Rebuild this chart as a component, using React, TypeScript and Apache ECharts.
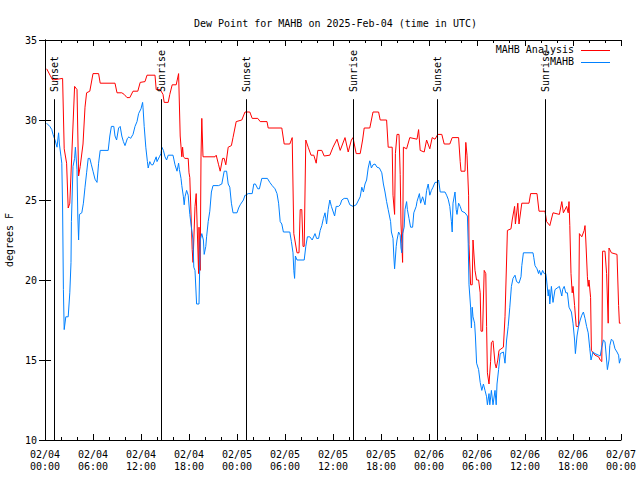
import React, { useEffect, useRef } from "react";
import * as echarts from "echarts";

// hours since 2025-02-04 00:00 UTC, dew point (F)
const analysisData: [number, number][] = [
  [0.21, 33.2], [0.63, 32.8], [0.96, 32.5], [2.2, 32.6], [2.4, 28.2], [2.7, 27.3], [2.9, 24.5], [3.1, 24.8],
  [3.7, 32.1], [4.0, 31.9], [4.2, 26.5], [4.4, 27.1], [4.75, 28.5], [5.0, 30.8], [5.2, 31.7], [5.6, 31.8],
  [6.0, 32.9], [6.7, 32.9], [6.9, 32.3], [8.75, 32.3], [9.0, 31.7], [9.6, 31.7], [9.9, 31.6], [10.25, 31.4],
  [10.6, 31.4], [11.0, 31.8], [11.6, 31.8], [11.9, 32.35], [12.5, 32.4], [12.75, 32.8], [13.75, 32.8],
  [13.9, 31.9], [14.4, 31.9], [14.75, 31.6], [14.9, 31.1], [15.4, 31.1], [15.6, 31.6], [15.9, 32.2],
  [16.4, 32.2], [16.7, 32.9], [16.9, 29.0], [17.1, 27.7], [17.2, 28.3], [17.3, 27.7], [17.5, 27.6],
  [17.9, 27.6], [18.0, 26.7], [18.1, 26.4], [18.4, 21.9], [18.5, 21.1], [18.75, 24.6], [18.9, 25.4],
  [19.2, 20.4], [19.25, 23.3], [19.4, 20.6], [19.5, 27.7], [19.6, 30.1], [19.75, 27.7], [21.25, 27.7],
  [21.4, 27.8], [21.7, 27.2], [21.9, 26.8], [22.2, 27.6], [22.4, 27.6], [22.6, 27.2], [22.9, 28.3],
  [23.3, 28.4], [23.5, 28.9], [23.9, 29.9], [24.6, 30.0], [25.0, 30.5], [25.6, 30.5], [25.9, 30.1],
  [26.6, 30.1], [26.9, 29.9], [27.75, 29.9], [27.9, 29.5], [29.6, 29.5], [29.9, 28.5], [30.6, 28.5],
  [30.9, 28.9], [31.1, 22.9], [31.5, 21.7], [31.75, 21.7], [31.9, 24.4], [32.1, 24.4], [32.25, 22.1],
  [32.4, 22.1], [32.6, 28.75], [32.9, 28.3], [33.25, 27.8], [33.6, 27.8], [33.9, 27.3], [34.1, 28.1],
  [34.6, 28.1], [34.9, 27.75], [35.6, 27.8], [36.0, 28.3], [36.5, 28.8], [36.9, 28.1], [37.5, 28.9],
  [37.9, 28.0], [38.3, 28.75], [38.5, 28.9], [38.9, 27.9], [39.4, 27.9], [39.7, 28.75], [39.9, 29.5],
  [40.6, 29.5], [41.0, 30.5], [41.7, 30.5], [41.9, 30.0], [42.7, 30.0], [42.9, 28.3], [43.4, 28.3],
  [43.5, 25.3], [43.7, 24.1], [43.8, 27.9], [44.0, 29.1], [44.25, 29.1], [44.4, 26.6], [44.5, 23.5],
  [44.6, 22.3], [44.7, 21.1], [44.8, 28.3], [45.2, 28.2], [45.6, 28.9], [46.5, 28.8], [46.7, 29.4],
  [46.9, 28.1], [47.4, 28.0], [47.7, 28.75], [48.1, 28.2], [48.4, 28.9], [48.75, 28.8], [49.1, 29.1],
  [49.6, 29.1], [49.9, 28.5], [50.6, 28.5], [50.9, 28.9], [51.7, 28.9], [51.9, 27.4], [52.0, 26.8],
  [52.5, 26.8], [52.6, 28.6], [52.75, 27.8], [52.95, 25.3], [53.0, 22.2], [53.2, 19.7], [53.4, 19.7],
  [53.5, 22.5], [53.75, 20.6], [53.95, 20.0], [54.2, 20.0], [54.4, 19.2], [54.5, 16.8], [54.7, 16.8],
  [54.9, 20.6], [55.1, 20.4], [55.2, 17.1], [55.3, 14.2], [55.5, 13.5], [55.7, 14.9], [55.8, 16.1],
  [56.0, 16.2], [56.25, 14.8], [56.4, 14.5], [56.6, 15.0], [56.75, 15.6], [57.3, 15.8], [57.5, 17.7],
  [57.7, 21.25], [57.8, 23.1], [58.25, 23.2], [58.4, 23.75], [58.7, 24.6], [58.8, 23.5], [59.1, 24.8],
  [59.25, 23.5], [59.6, 24.8], [60.5, 24.8], [60.7, 25.4], [61.5, 25.4], [61.75, 24.3], [62.5, 24.3],
  [62.7, 23.65], [63.1, 23.4], [63.5, 24.2], [64.3, 24.1], [64.6, 24.9], [64.8, 24.2], [65.2, 24.6],
  [65.4, 24.2], [65.5, 24.9], [65.6, 23.4], [65.75, 20.4], [65.9, 19.2], [66.0, 19.6], [66.2, 18.4],
  [66.4, 17.1], [66.7, 17.1], [66.8, 22.9], [67.1, 22.7], [67.4, 23.1], [67.5, 23.4], [67.6, 22.5],
  [67.8, 20.2], [67.9, 19.6], [68.0, 20.0], [68.2, 18.9], [68.3, 15.6], [68.75, 15.3], [69.2, 15.2],
  [69.4, 15.0], [69.6, 14.9], [69.7, 21.8], [70.0, 21.8], [70.2, 20.4], [70.4, 17.3], [70.5, 22.0],
  [70.8, 21.7], [71.5, 21.6], [71.7, 18.4], [71.8, 17.3], [71.95, 17.3],
];

const stationData: [number, number][] = [
  [0.2, 29.8], [0.6, 29.6], [0.85, 29.4], [1.0, 29.1], [1.25, 28.75], [1.5, 28.3], [1.7, 29.2], [1.8, 28.5],
  [2.0, 27.7], [2.1, 27.3], [2.2, 24.5], [2.3, 19.4], [2.4, 16.9], [2.6, 17.7], [2.9, 17.7], [3.1, 19.2],
  [3.25, 21.1], [3.3, 23.65], [3.5, 27.1], [3.7, 27.6], [3.8, 28.3], [4.0, 26.9], [4.1, 24.0], [4.2, 22.5],
  [4.3, 24.1], [4.6, 24.2], [4.8, 24.8], [5.0, 25.8], [5.2, 26.7], [5.4, 27.6], [5.6, 27.6], [5.8, 27.2],
  [6.0, 26.8], [6.25, 26.3], [6.5, 26.1], [6.7, 27.3], [6.9, 28.1], [7.9, 28.1], [8.1, 29.0], [8.3, 29.6],
  [8.6, 29.6], [8.75, 29.0], [8.95, 28.75], [9.2, 29.5], [9.4, 29.6], [9.6, 29.0], [9.8, 28.65], [10.0, 28.4],
  [10.3, 28.85], [10.5, 28.95], [10.7, 28.85], [11.0, 29.1], [11.25, 29.6], [11.5, 29.9], [11.7, 30.4],
  [12.0, 30.7], [12.2, 31.1], [12.25, 30.8], [12.4, 29.6], [12.6, 28.3], [12.8, 27.4], [12.9, 27.0],
  [13.1, 27.4], [13.3, 27.2], [13.5, 27.2], [13.9, 27.7], [14.0, 27.4], [14.3, 27.7], [14.5, 27.9],
  [14.6, 28.3], [14.8, 28.1], [15.0, 27.7], [15.2, 27.5], [15.4, 27.8], [16.0, 27.8], [16.25, 27.2],
  [16.5, 26.8], [16.7, 27.3], [16.8, 26.9], [17.0, 26.35], [17.1, 25.9], [17.3, 25.2], [17.4, 24.7],
  [17.5, 25.2], [17.7, 25.6], [17.9, 25.3], [18.1, 24.1], [18.3, 23.3], [18.5, 22.5], [18.6, 20.8],
  [18.75, 20.6], [18.95, 18.5], [19.25, 18.5], [19.4, 22.5], [19.6, 22.9], [19.8, 22.5], [19.9, 21.6],
  [20.1, 22.1], [20.2, 22.7], [20.4, 23.65], [20.6, 24.3], [20.8, 25.5], [21.0, 25.9], [21.7, 25.9],
  [22.1, 26.0], [22.4, 26.8], [22.7, 26.8], [22.9, 26.0], [23.1, 25.8], [23.3, 24.8], [23.5, 24.2],
  [24.0, 24.2], [24.2, 24.5], [24.4, 24.7], [24.8, 25.0], [25.0, 25.3], [25.1, 25.3], [25.4, 25.4],
  [25.9, 25.4], [26.1, 26.0], [26.3, 26.0], [26.6, 25.7], [26.8, 25.7], [27.1, 26.35], [27.8, 26.35],
  [28.1, 26.1], [28.4, 25.9], [28.75, 25.7], [29.0, 25.4], [29.2, 24.8], [29.4, 23.65], [29.6, 23.5],
  [29.8, 23.0], [30.6, 23.0], [30.8, 22.4], [31.0, 21.7], [31.1, 20.6], [31.2, 20.1], [31.3, 21.5],
  [31.5, 21.25], [32.4, 21.25], [32.6, 22.1], [32.8, 22.7], [33.1, 22.7], [33.4, 22.5], [33.75, 22.9],
  [33.95, 22.6], [34.2, 22.6], [34.4, 23.1], [34.6, 23.4], [34.8, 23.85], [35.0, 24.2], [35.2, 23.5],
  [35.4, 24.4], [35.6, 25.0], [35.8, 24.6], [36.2, 24.0], [36.4, 24.6], [36.7, 24.6], [36.9, 24.7],
  [37.1, 25.0], [37.4, 25.1], [37.8, 25.1], [38.1, 24.7], [38.5, 24.6], [38.9, 24.7], [39.2, 25.0],
  [39.4, 25.2], [39.6, 25.8], [39.8, 25.5], [40.0, 26.0], [40.2, 26.25], [40.4, 27.0], [40.6, 27.45],
  [40.8, 27.0], [41.0, 27.2], [41.25, 27.25], [41.5, 27.05], [41.8, 27.0], [42.1, 26.7], [42.3, 26.0],
  [42.5, 25.5], [42.7, 24.9], [42.9, 24.4], [43.2, 23.65], [43.3, 23.0], [43.5, 22.6], [43.6, 21.5],
  [43.7, 20.7], [43.9, 22.1], [44.0, 22.5], [44.2, 23.0], [44.4, 22.8], [44.5, 22.0], [44.6, 21.7],
  [44.7, 22.9], [44.9, 23.3], [45.0, 24.4], [45.2, 24.9], [45.3, 24.4], [45.5, 23.85], [45.7, 23.3],
  [45.95, 23.3], [46.1, 24.2], [46.4, 24.6], [46.5, 24.9], [46.8, 25.4], [46.95, 24.8], [47.2, 25.2],
  [47.5, 24.7], [47.7, 25.6], [47.9, 26.0], [48.1, 25.3], [48.3, 25.6], [48.5, 25.8], [48.75, 26.1],
  [48.95, 26.1], [49.2, 26.25], [49.4, 25.5], [50.0, 25.5], [50.2, 25.3], [50.4, 25.05], [50.6, 24.6],
  [50.8, 23.65], [50.9, 23.0], [51.0, 24.8], [51.25, 25.5], [51.4, 24.4], [51.5, 24.1], [51.7, 24.8],
  [51.9, 24.6], [52.1, 24.3], [52.5, 24.2], [52.8, 24.0], [52.9, 22.3], [53.0, 19.7], [53.2, 18.3],
  [53.3, 17.0], [53.4, 18.3], [53.5, 17.7], [53.7, 17.3], [53.8, 16.5], [53.95, 14.8], [54.2, 14.4],
  [54.4, 13.6], [54.6, 13.1], [54.8, 13.5], [55.0, 13.1], [55.2, 12.7], [55.3, 12.2], [55.5, 12.9],
  [55.6, 12.2], [55.8, 13.1], [56.0, 12.2], [56.25, 13.1], [56.4, 12.2], [56.5, 13.5], [56.7, 14.4],
  [56.9, 15.4], [57.3, 15.5], [57.5, 14.8], [57.7, 16.25], [57.9, 17.1], [58.1, 18.3], [58.3, 19.6],
  [58.5, 20.1], [58.75, 20.3], [58.95, 19.9], [59.25, 19.8], [59.5, 20.2], [59.6, 20.9], [59.8, 21.7],
  [61.0, 21.7], [61.1, 21.4], [61.25, 20.9], [61.5, 20.7], [61.7, 20.4], [61.8, 20.6], [62.0, 20.3],
  [62.2, 20.6], [62.4, 20.4], [62.6, 20.4], [62.7, 20.0], [62.9, 19.0], [63.0, 19.4], [63.1, 18.5],
  [63.3, 19.6], [63.5, 18.6], [63.75, 19.4], [64.3, 19.6], [64.6, 19.0], [64.7, 19.4], [64.9, 19.6],
  [65.1, 19.2], [65.3, 19.2], [65.5, 18.3], [65.8, 18.0], [66.0, 17.3], [66.2, 16.25], [66.3, 15.4],
  [66.5, 16.5], [66.7, 17.1], [66.9, 17.5], [67.1, 17.8], [67.3, 18.0], [67.5, 17.6], [67.7, 17.1],
  [67.9, 16.7], [68.1, 15.7], [68.25, 15.0], [68.5, 15.5], [68.75, 15.4], [69.2, 15.3], [69.4, 15.25],
  [69.6, 15.8], [69.8, 16.25], [70.0, 16.15], [70.2, 15.0], [70.3, 14.4], [70.5, 15.0], [70.6, 15.9],
  [70.8, 16.3], [71.0, 16.2], [71.25, 15.7], [71.5, 15.5], [71.7, 15.3], [71.8, 14.8], [71.95, 15.1],
];

const sunsetHours = [1.13, 25.13, 49.05];
const sunriseHours = [14.55, 38.55, 62.55];

const xTickLabels = [
  "02/04\n00:00", "02/04\n06:00", "02/04\n12:00", "02/04\n18:00",
  "02/05\n00:00", "02/05\n06:00", "02/05\n12:00", "02/05\n18:00",
  "02/06\n00:00", "02/06\n06:00", "02/06\n12:00", "02/06\n18:00",
  "02/07\n00:00",
];

const seriesNames = ["MAHB Analysis", "MAHB"];
const seriesColors = ["#ff0000", "#0080ff"];

const FONT = "'DejaVu Sans Mono', 'Liberation Mono', monospace";
const FS = 10;

export default function App() {
  const ref = useRef<HTMLDivElement>(null);

  useEffect(() => {
    if (!ref.current) return;
    const chart = echarts.init(ref.current, undefined, { renderer: "svg" });

    const sunLines: any[] = [];
    const addSun = (t: number, name: string) => {
      sunLines.push([
        { xAxis: t, yAxis: 10, label: { show: false } },
        { xAxis: t, yAxis: 31.3 },
      ]);
      sunLines.push([
        {
          name,
          xAxis: t,
          yAxis: 31.75,
          lineStyle: { color: "rgba(0,0,0,0)", opacity: 1 },
          label: {
            show: true,
            position: "insideStart",
            formatter: "{b}",
            color: "#000",
            opacity: 1,
            fontFamily: FONT,
            fontSize: FS,
            distance: [0, 0],
          },
        },
        { xAxis: t, yAxis: 35 },
      ]);
    };
    sunsetHours.forEach((t) => addSun(t, "Sunset"));
    sunriseHours.forEach((t) => addSun(t, "Sunrise"));

    const axisCommon = {
      axisLine: { show: true, lineStyle: { color: "#000", width: 1 } },
      splitLine: { show: false },
    };

    chart.setOption({
      animation: false,
      backgroundColor: "#fff",
      title: {
        text: "Dew Point for MAHB on 2025-Feb-04 (time in UTC)",
        left: 189,
        top: 13,
        textStyle: { fontFamily: FONT, fontSize: FS, fontWeight: "normal", color: "#000" },
      },
      grid: { left: 45, right: 19, top: 40, bottom: 40, containLabel: false, outerBoundsMode: "none" },
      xAxis: [
        {
          type: "value",
          position: "bottom",
          min: 0,
          max: 72,
          interval: 6,
          ...axisCommon,
          axisTick: { show: true, inside: true, length: 6, lineStyle: { color: "#000" } },
          minorTick: { show: true, splitNumber: 3, length: 3, lineStyle: { color: "#000" } },
          axisLabel: {
            fontFamily: FONT,
            fontSize: FS,
            color: "#000",
            lineHeight: 12,
            margin: 8,
            formatter: (v: number) => xTickLabels[Math.round(v / 6)] ?? "",
          },
        },
        {
          type: "value",
          position: "top",
          min: 0,
          max: 72,
          interval: 6,
          ...axisCommon,
          axisTick: { show: true, inside: true, length: 6, lineStyle: { color: "#000" } },
          minorTick: { show: true, splitNumber: 3, length: 3, lineStyle: { color: "#000" } },
          axisLabel: { show: false },
        },
      ],
      yAxis: [
        {
          type: "value",
          position: "left",
          min: 10,
          max: 35,
          interval: 5,
          ...axisCommon,
          axisTick: { show: true, inside: true, length: 6, lineStyle: { color: "#000" } },
          axisLabel: { fontFamily: FONT, fontSize: FS, color: "#000", margin: 8 },
          name: "degrees F",
          nameLocation: "middle",
          nameRotate: 90,
          nameGap: 29,
          nameTextStyle: { fontFamily: FONT, fontSize: FS, color: "#000" },
        },
        {
          type: "value",
          position: "right",
          min: 10,
          max: 35,
          interval: 5,
          ...axisCommon,
          axisTick: { show: true, inside: true, length: 6, lineStyle: { color: "#000" } },
          axisLabel: { show: false },
        },
      ],
      legend: { show: false },
      graphic: [
        {
          type: "text",
          right: 640 - 574,
          top: 44,
          style: { text: seriesNames[0], fontFamily: FONT, fontSize: FS, fill: "#000" },
        },
        {
          type: "line",
          shape: { x1: 581, y1: 50.5, x2: 610, y2: 50.5 },
          style: { stroke: seriesColors[0], lineWidth: 1 },
        },
        {
          type: "text",
          right: 640 - 574,
          top: 56,
          style: { text: seriesNames[1], fontFamily: FONT, fontSize: FS, fill: "#000" },
        },
        {
          type: "line",
          shape: { x1: 581, y1: 62.5, x2: 610, y2: 62.5 },
          style: { stroke: seriesColors[1], lineWidth: 1 },
        },
      ],
      series: [
        {
          name: seriesNames[0],
          type: "line",
          data: analysisData,
          showSymbol: false,
          symbol: "none",
          lineStyle: { color: seriesColors[0], width: 1 },
          itemStyle: { color: seriesColors[0] },
          z: 2,
        },
        {
          name: seriesNames[1],
          type: "line",
          data: stationData,
          showSymbol: false,
          symbol: "none",
          lineStyle: { color: seriesColors[1], width: 1 },
          itemStyle: { color: seriesColors[1] },
          z: 3,
          markLine: {
            silent: true,
            symbol: ["none", "none"],
            lineStyle: { color: "#000", width: 1, type: "solid" },
            label: { show: false },
            data: sunLines,
          },
        },
      ],
    });

    return () => chart.dispose();
  }, []);

  return (
    <div
      ref={ref}
      style={{ position: "fixed", left: 0, top: 0, width: 640, height: 480, background: "#fff" }}
    />
  );
}
